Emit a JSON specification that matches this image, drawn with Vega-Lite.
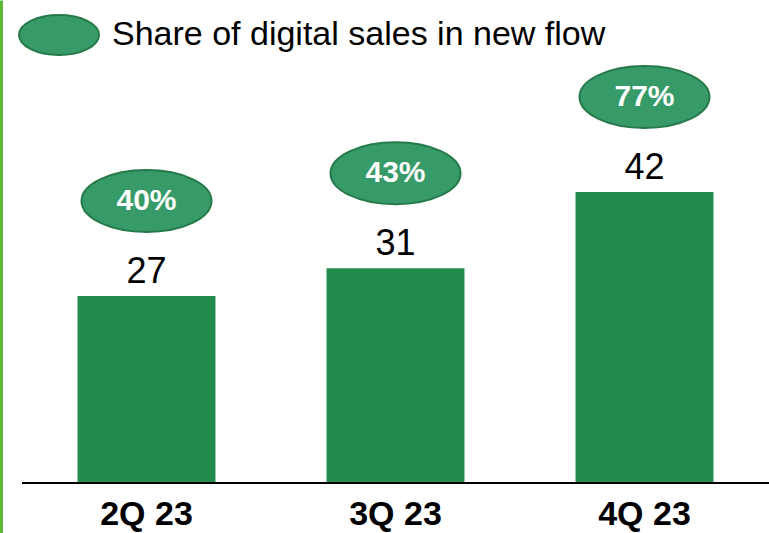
{
  "$schema": "https://vega.github.io/schema/vega-lite/v6.json",
  "width": 747,
  "height": 533,
  "autosize": {"type": "none"},
  "padding": {"left": 22, "top": 0, "right": 0, "bottom": 0},
  "background": "white",
  "config": {"view": {"stroke": null}, "font": "Liberation Sans"},
  "data": {
    "values": [
      {"quarter": "2Q 23", "sales": 27, "share": "40%"},
      {"quarter": "3Q 23", "sales": 31, "share": "43%"},
      {"quarter": "4Q 23", "sales": 42, "share": "77%"}
    ]
  },
  "encoding": {
    "x": {"field": "quarter", "type": "nominal", "sort": null,
      "scale": {"paddingInner": 0.446, "paddingOuter": 0.223},
      "axis": null}
  },
  "layer": [
    {
      "mark": {"type": "bar", "color": "#238b4b"},
      "encoding": {
        "y": {"field": "sales", "type": "quantitative",
          "scale": {"domain": [-7.2, 69.7], "nice": false, "zero": false},
          "axis": {"labels": false, "ticks": false, "grid": false, "title": null,
            "domainColor": "#5cb936", "domainWidth": 3, "offset": 21}}
      }
    },
    {
      "mark": {"type": "rule", "color": "#000000", "strokeWidth": 2},
      "encoding": {"y": {"datum": 0}, "x": null}
    },
    {
      "mark": {"type": "text", "fontSize": 36, "baseline": "alphabetic", "dy": -13, "color": "#000000"},
      "encoding": {
        "y": {"field": "sales", "type": "quantitative"},
        "text": {"field": "sales"}
      }
    },
    {
      "mark": {"type": "text", "fontSize": 34, "fontWeight": "bold", "baseline": "middle", "color": "#000000"},
      "encoding": {
        "y": {"datum": -4.6},
        "text": {"field": "quarter"}
      }
    },
    {
      "mark": {"type": "point", "filled": true, "opacity": 1, "strokeWidth": 2, "stroke": "#267a4a",
        "shape": "M-1,0A1,0.477 0 1,0 1,0A1,0.477 0 1,0 -1,0Z", "size": 16900, "yOffset": -95},
      "encoding": {
        "y": {"field": "sales", "type": "quantitative"},
        "color": {"datum": "Share of digital sales in new flow", "type": "nominal",
          "scale": {"range": ["#379a69"]},
          "legend": {"title": null, "orient": "none", "legendX": -4, "legendY": -6,
            "padding": 0,
            "symbolType": "M-1,0A1,0.5 0 1,0 1,0A1,0.5 0 1,0 -1,0Z", "symbolSize": 6400,
            "symbolFillColor": "#379a69", "symbolStrokeColor": "#267a4a", "symbolStrokeWidth": 2,
            "symbolOpacity": 1,
            "labelFontSize": 34, "labelColor": "#000000", "labelOffset": 12, "labelLimit": 800}}
      }
    },
    {
      "mark": {"type": "text", "fontSize": 30, "fontWeight": "bold", "color": "white", "baseline": "middle", "yOffset": -95},
      "encoding": {
        "y": {"field": "sales", "type": "quantitative"},
        "text": {"field": "share"}
      }
    }
  ]
}
